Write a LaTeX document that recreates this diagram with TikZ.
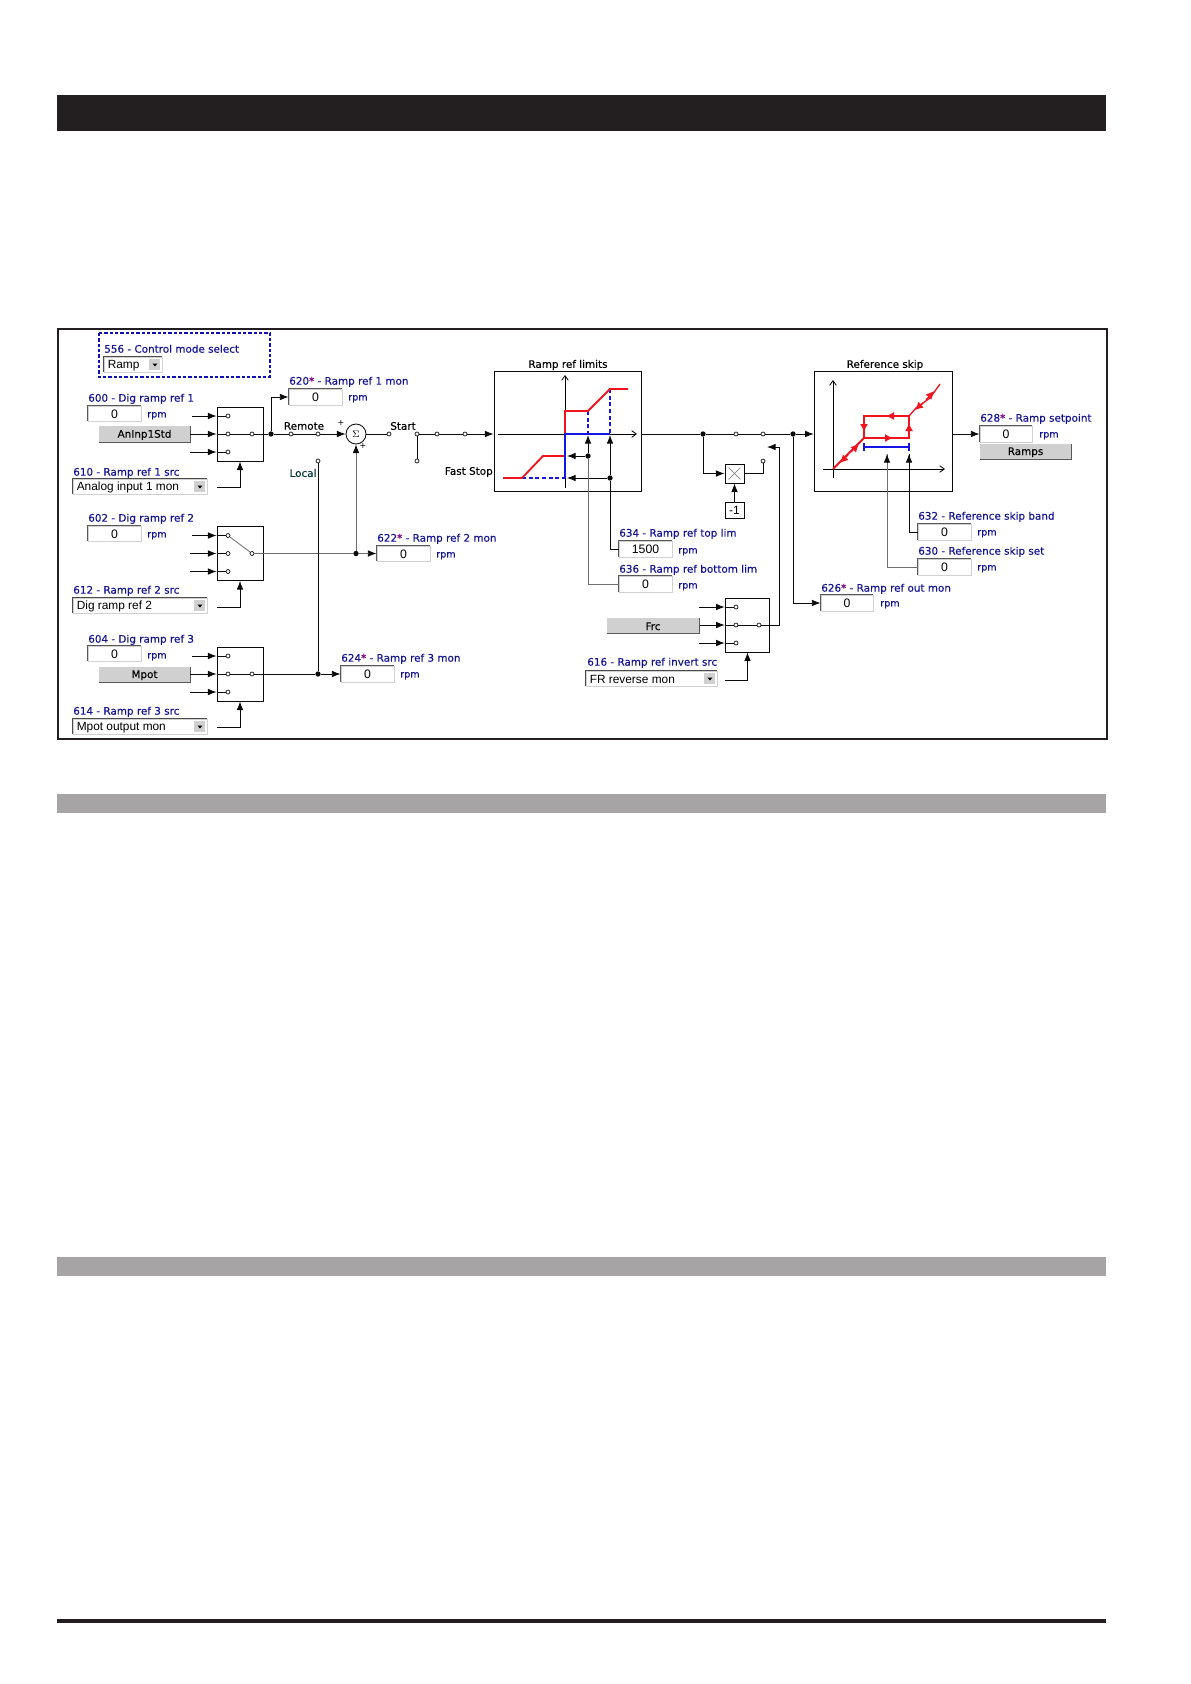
\documentclass[tikz,border=0pt]{standalone}
\usepackage{fontspec}
\setmainfont{DejaVu Sans}
\newfontfamily\valfont{Liberation Sans}
\newfontfamily\labfont[FakeBold=0.15]{DejaVu Sans}
\usetikzlibrary{arrows.meta,calc}
\definecolor{labblue}{RGB}{20,20,150}
\definecolor{wire}{RGB}{10,10,10}
\definecolor{gwire}{RGB}{110,110,110}
\definecolor{btn}{RGB}{208,208,208}
\definecolor{redc}{RGB}{240,20,30}
\definecolor{bluec}{RGB}{20,20,230}
\definecolor{barblack}{RGB}{35,31,32}
\definecolor{bargray}{RGB}{166,164,164}
\tikzset{
  x=0.75pt,y=-0.75pt,
  lab/.style={inner sep=0pt,anchor=west,yshift=-0.6pt,text=labblue,font=\labfont\fontsize{7.8pt}{8pt}\selectfont},
  unitlab/.style={inner sep=0pt,anchor=west,yshift=-0.6pt,text=labblue,font=\labfont\fontsize{7.2pt}{8pt}\selectfont},
  blk/.style={inner sep=0pt,text=black,font=\labfont\fontsize{7.8pt}{8pt}\selectfont},
  plusn/.style={inner sep=0pt,text=black,font=\fontsize{6pt}{7pt}\selectfont},
  valtext/.style={inner sep=0pt,yshift=-0.5pt,text=black,font=\valfont\fontsize{9.2pt}{10pt}\selectfont},
  ddtext/.style={inner sep=0pt,anchor=west,yshift=-0.9pt,text=black,font=\valfont\fontsize{8.9pt}{10pt}\selectfont},
  wl/.style={draw=wire,line width=0.65pt},
  gl/.style={draw=gwire,line width=0.65pt},
  arr/.style={-{Latex[length=6.5pt,width=5pt,color=wire]}},
  oarr/.style={-{Straight Barb[length=3.5pt,width=5pt]}},
  ct/.style={circle,draw=wire,fill=white,line width=0.5pt,inner sep=0pt,minimum size=3pt},
  dotn/.style={circle,fill=wire,inner sep=0pt,minimum size=4pt},
  swbox/.style={draw=wire,line width=0.65pt,fill=white,inner sep=0pt},
  redl/.style={draw=redc,line width=1.4pt},
  bluel/.style={draw=bluec,line width=1.4pt},
  bluedash/.style={draw=bluec,line width=1pt,densely dashed},
  redtip/.style={draw=redc,line width=1pt,-{Latex[length=6pt,width=6pt]}},
}
\newcommand{\valbox}[6]{% name, x1, y1, x2, y2, text
  \pgfmathsetmacro{\bw}{(#4-#2)*0.75}\pgfmathsetmacro{\bh}{(#5-#3)*0.75}
  \node[fill=white,inner sep=0pt,minimum width=\bw pt,minimum height=\bh pt,draw=black!18,line width=0.7pt] (#1) at ({(#2+#4)/2},{(#3+#5)/2}) {};
  \draw[black!65,line width=1.1pt] (#1.south west) |- (#1.north east);
  \node[valtext] (#1t) at (#1) {#6};
}
\newcommand{\btnbox}[6]{%
  \pgfmathsetmacro{\bw}{(#4-#2)*0.75}\pgfmathsetmacro{\bh}{(#5-#3)*0.75}
  \node[fill=btn,inner sep=0pt,minimum width=\bw pt,minimum height=\bh pt] (#1) at ({(#2+#4)/2},{(#3+#5)/2}) {};
  \draw[black!65,line width=1.1pt] (#1.south west) -| (#1.north east);
  \node[blk,yshift=-0.6pt] (#1t) at (#1) {#6};
}
\newcommand{\ddbox}[6]{%
  \pgfmathsetmacro{\bw}{(#4-#2)*0.75}\pgfmathsetmacro{\bh}{(#5-#3)*0.75}
  \node[fill=white,inner sep=0pt,minimum width=\bw pt,minimum height=\bh pt,draw=black!18,line width=0.7pt] (#1) at ({(#2+#4)/2},{(#3+#5)/2}) {};
  \draw[black!70,line width=1.1pt] (#1.south west) |- (#1.north east);
  \node[ddtext] (#1t) at ($(#1.west)+(4,0)$) {#6};
  \fill[btn] ($(#1.south east)+(-13,-2)$) rectangle ($(#1.north east)+(-2,2)$);
  \fill[black] ($(#1.east)+(-10,-1)$) -- ++(5,0) -- ++(-2.5,3) -- cycle;
}
\begin{document}
\begin{tikzpicture}
\useasboundingbox (0,0) rectangle (1191,1684);
\fill[white] (0,0) rectangle (1191,1684);
% page furniture
\fill[barblack] (57,95) rectangle (1106,131);
\fill[bargray] (57,794) rectangle (1106,813);
\fill[bargray] (57,1257) rectangle (1106,1276);
\fill[barblack] (57,1619) rectangle (1106,1623);
\draw[barblack,line width=1.4pt] (58,329) rectangle (1107,739);
% control mode
\draw[bluec!80!black,line width=1.3pt,dash pattern=on 2.4pt off 1.6pt] (99,333) rectangle (270,377);
\node[lab] (l556) at (104,348) {556 - Control mode select};
\ddbox{dd556}{104}{357}{162}{372}{Ramp}
% left column
\node[lab] (l600) at (88,398) {600 - Dig ramp ref 1};
\valbox{v600}{88}{406}{141}{421}{0}
\node[unitlab] (u600) at (147,415) {rpm};
\btnbox{b600}{99}{426}{190}{442}{AnInp1Std}
\node[lab] (l610) at (73,472) {610 - Ramp ref 1 src};
\ddbox{dd610}{73}{479}{207}{494}{Analog input 1 mon}

\node[lab] (l602) at (88,518) {602 - Dig ramp ref 2};
\valbox{v602}{88}{526}{141}{541}{0}
\node[unitlab] (u602) at (147,535) {rpm};
\node[lab] (l612) at (73,590) {612 - Ramp ref 2 src};
\ddbox{dd612}{73}{598}{207}{613}{Dig ramp ref 2}

\node[lab] (l604) at (88,639) {604 - Dig ramp ref 3};
\valbox{v604}{88}{646}{141}{661}{0}
\node[unitlab] (u604) at (147,656) {rpm};
\btnbox{b604}{99}{667}{190}{682}{Mpot}
\node[lab] (l614) at (73,711) {614 - Ramp ref 3 src};
\ddbox{dd614}{73}{719}{207}{734}{Mpot output mon}

% switches
\node[swbox,minimum width=34.5pt,minimum height=40.5pt] (sw1) at (240,434) {};
\node[swbox,minimum width=34.5pt,minimum height=40.5pt] (sw2) at (240,553.5) {};
\node[swbox,minimum width=34.5pt,minimum height=40.5pt] (sw3) at (240,674) {};
\node[swbox,minimum width=33.5pt,minimum height=40.5pt] (sw4) at (747.5,625) {};
\foreach \s/\yy in {1/434,2/553.5,3/674}{
  \node[ct] (s\s a) at (228,\yy-18) {};
  \node[ct] (s\s b) at (228,\yy) {};
  \node[ct] (s\s c) at (228,\yy+18) {};
  \node[ct] (s\s o) at (252,\yy) {};
  \coordinate (i\s a) at (192,\yy-18);
  \coordinate (i\s b) at (190,\yy);
  \coordinate (i\s c) at (190,\yy+18);
  \draw[wl,arr] (i\s a) -- (s\s a -| sw\s.west);
  \draw[wl] (s\s a -| sw\s.west) -- (s\s a);
  \draw[wl,arr] (i\s b) -- (s\s b -| sw\s.west);
  \draw[wl] (s\s b -| sw\s.west) -- (s\s b);
  \draw[wl,arr] (i\s c) -- (s\s c -| sw\s.west);
  \draw[wl] (s\s c -| sw\s.west) -- (s\s c);
}
\draw[wl] (s1b) -- (s1o);
\draw[wl] (s3b) -- (s3o);
\draw[gl] (s2a) -- (s2o);
\node[ct] (s4a) at (736,607) {};
\node[ct] (s4b) at (736,625) {};
\node[ct] (s4c) at (736,643) {};
\node[ct] (s4o) at (759,625) {};
\draw[wl] (s4b) -- (s4o);
\foreach \k in {a,b,c}{
  \coordinate (i4\k) at (s4\k -| 699,0);
  \draw[wl,arr] (i4\k) -- (s4\k -| sw4.west);
  \draw[wl] (s4\k -| sw4.west) -- (s4\k);
}
% selector arrows
\coordinate (q1) at (217,487);
\coordinate (q2) at (217,607);
\coordinate (q3) at (217,727);
\coordinate (q4) at (725,680);
\draw[wl,arr] (q1) -| (sw1.south);
\draw[wl,arr] (q2) -| (sw2.south);
\draw[wl,arr] (q3) -| (sw3.south);
\draw[wl,arr] (q4) -| (sw4.south);

% monitor 620
\node[lab] (l620) at (289,381) {620{\color{violet}*} - Ramp ref 1 mon};
\valbox{v620}{289}{389}{342}{405}{0}
\node[unitlab] (u620) at (348,398) {rpm};
\node[dotn] (d1) at (271,434) {};
\draw[wl] (s1o) -- (d1);
\draw[wl,arr] (d1) |- (v620.west);
% remote/local
\node[ct] (r1) at (291,434) {};
\node[ct] (r2) at (318,434) {};
\node[ct] (r3) at (318,461) {};
\node[blk] (tRemote) at (304,426) {Remote};
\node[blk,text=black!60!teal] (tLocal) at (303,473) {Local};
\draw[wl] (d1) -- (r1) -- (r2);
\node[circle,draw=wire,line width=0.65pt,fill=white,inner sep=0pt,minimum size=15pt,font=\fontsize{7pt}{8pt}\selectfont] (sum) at (356,434) {$\Sigma$};
\draw[wl,arr] (r2) -- (sum.west);
\node[plusn] (plus1) at (341,423) {+};
\node[plusn] (plus2) at (363,446) {+};
% 622
\node[dotn] (d2) at (356,553.5) {};
\node[lab] (l622) at (377,538) {622{\color{violet}*} - Ramp ref 2 mon};
\valbox{v622}{377}{546}{430}{561}{0}
\node[unitlab] (u622) at (436,555) {rpm};
\draw[gl] (s2o) -- (d2);
\draw[gl,arr] (d2) -- (sum.south);
\draw[gl,arr] (d2) -- (v622.west);
% 624
\node[dotn] (d3) at (318,674) {};
\node[lab] (l624) at (341,658) {624{\color{violet}*} - Ramp ref 3 mon};
\valbox{v624}{341}{666}{394}{682}{0}
\node[unitlab] (u624) at (400,675) {rpm};
\draw[wl] (s3o) -- (d3);
\draw[wl,arr] (d3) -- (v624.west);
\draw[wl] (r3) -- (d3);
% start
\node[ct] (st1) at (389,434) {};
\node[ct] (st2) at (417,434) {};
\node[ct] (st3) at (417,461) {};
\node[ct] (st4) at (437,434) {};
\node[ct] (st5) at (465,434) {};
\node[blk] (tStart) at (403,426) {Start};
\node[blk,anchor=east] (tFast) at (493,472) {Fast Stop};
\draw[wl] (sum.east) -- (st1);
\draw[wl] (st2) -- (st3);
\draw[wl] (st2) -- (st4) -- (st5);
% ramp limits
\node[swbox,minimum width=110.25pt,minimum height=90pt] (rl) at (567.5,431) {};
\node[blk] (tRL) at (568,365) {Ramp ref limits};
\draw[wl,arr] (st5) -- (st5 -| rl.west);
\draw[black,line width=0.6pt,oarr] (565,488) -- (565,375);
\draw[black,line width=0.6pt,oarr] (498,434) -- (637,434);
\draw[bluedash] (522,478) -- (565,478);
\draw[bluedash] (588,411) -- (588,434);
\draw[bluedash] (610,389) -- (610,434);
\draw[redl] (503,478) -- (522,478) -- (543,456) -- (565,456);
\draw[redl] (565,434) -- (565,411) -- (588,411) -- (610,389) -- (628,389);
\draw[bluel] (610,434) -- (565,434) -- (565,478);
\node[dotn] (d4) at (588,456) {};
\node[dotn] (d5) at (610,478) {};
\coordinate (tipa) at (588,435);
\coordinate (tipb) at (610,435);
\coordinate (tipc) at (567,456);
\coordinate (tipd) at (567,478);
\draw[wl,arr] (d4) -- (tipa);
\draw[wl,arr] (d5) -- (tipb);
\draw[wl,arr] (d4) -- (tipc);
\draw[wl,arr] (d5) -- (tipd);
% 634 636
\node[lab] (l634) at (619,533) {634 - Ramp ref top lim};
\valbox{v634}{619}{541}{672}{557}{1500}
\node[unitlab] (u634) at (678,551) {rpm};
\node[lab] (l636) at (619,569) {636 - Ramp ref bottom lim};
\valbox{v636}{619}{576}{672}{592}{0}
\node[unitlab] (u636) at (678,586) {rpm};
\draw[wl] (d5) |- (v634.west);
\draw[gl] (d4) |- (v636.west);
% invert
\btnbox{b616}{607}{618}{699}{633}{Frc}
\node[lab] (l616) at (587,662) {616 - Ramp ref invert src};
\ddbox{dd616}{586}{671}{717}{686}{FR reverse mon}
% main wire
\node[dotn] (d6) at (703,434) {};
\node[ct] (c1) at (736,434) {};
\node[ct] (c2) at (763,434) {};
\node[ct] (c3) at (763,461) {};
\node[dotn] (d7) at (793,434) {};
\node[swbox,minimum width=14.25pt,minimum height=14.25pt] (mul) at (734.5,473.5) {};
\draw[gwire,line width=0.5pt] ($(mul.north west)+(4,4)$) -- ($(mul.south east)+(-4,-4)$);
\draw[gwire,line width=0.5pt] ($(mul.north east)+(-4,4)$) -- ($(mul.south west)+(4,-4)$);
\node[swbox,minimum width=14.25pt,minimum height=12pt,font=\valfont\fontsize{9pt}{10pt}\selectfont] (m1) at (734.5,510) {-1};
\node[swbox,minimum width=104pt,minimum height=90pt] (rs) at (883.5,431.5) {};
\node[blk] (tRS) at (885,365) {Reference skip};
\draw[wl] (d6 -| rl.east) -- (d6) -- (c1) -- (c2);
\draw[wl] (c2) -- (d7);
\draw[wl,arr] (d7) -- (d7 -| rs.west);
\draw[wl,arr] (d6) |- (mul.west);
\draw[wl] (mul.east) -| (c3);
\draw[wl,arr] (m1.north) -- (mul.south);
\coordinate (sel) at (767,447);
\draw[wl,arr] (s4o) -| (779,447) -- (sel);
% 626
\node[lab] (l626) at (821,588) {626{\color{violet}*} - Ramp ref out mon};
\valbox{v626}{821}{595}{873}{611}{0}
\node[unitlab] (u626) at (880,604) {rpm};
\draw[wl,arr] (d7) |- (v626.west);
% skip graph
\draw[black,line width=0.6pt,oarr] (833,478) -- (833,380);
\draw[black,line width=0.6pt,oarr] (823,469) -- (945,469);
\draw[redl] (833,469) -- (864,438) -- (909,438) -- (909,416) -- (864,416) -- (864,438);
\draw[redl,line width=1pt] (909,416) -- (916,408) -- (930,398) -- (940,384);
\draw[redtip] (885,438) -- (893,438);
\draw[redtip] (895,416) -- (886,416);
\draw[redtip] (864,423) -- (864,432);
\draw[redtip] (909,432) -- (909,423);
\draw[redtip] (848,455) -- (840,463);
\draw[redtip] (851,452) -- (859,444);
\draw[redtip] (923,403) -- (915,410);
\draw[redtip] (926,400) -- (934,391);
\draw[draw=bluec,line width=0.9pt] (864,447) -- (909,447);
\draw[draw=bluec,line width=0.9pt] (864,443) -- (864,451);
\draw[draw=bluec,line width=0.9pt] (909,443) -- (909,451);
\node[lab] (l632) at (918,516) {632 - Reference skip band};
\valbox{v632}{918}{524}{971}{540}{0}
\node[unitlab] (u632) at (977,533) {rpm};
\node[lab] (l630) at (918,551) {630 - Reference skip set};
\valbox{v630}{918}{559}{971}{575}{0}
\node[unitlab] (u630) at (977,568) {rpm};
\coordinate (bandtip) at (909,454);
\coordinate (settip) at (887,454);
\draw[wl] (v632.west) -| (bandtip);
\draw[wl,arr] ($(bandtip)+(0,8)$) -- (bandtip);
\draw[gl] (v630.west) -| (settip);
\draw[wl,arr] ($(settip)+(0,8)$) -- (settip);
% output
\node[lab] (l628) at (980,418) {628{\color{violet}*} - Ramp setpoint};
\valbox{v628}{980}{426}{1032}{442}{0}
\node[unitlab] (u628) at (1039,435) {rpm};
\btnbox{b628}{980}{444}{1071}{459}{Ramps}
\coordinate (rso) at (rs.east |- d7);
\draw[wl,arr] (rso) -- (rso -| v628.west);
\end{tikzpicture}
\end{document}
